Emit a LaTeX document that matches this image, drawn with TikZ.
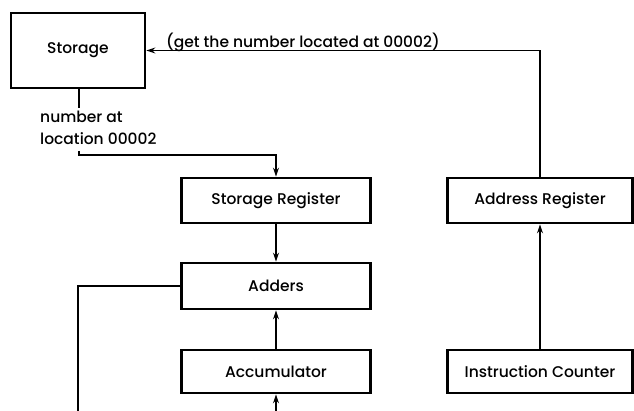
\documentclass[tikz,border=0pt]{standalone}
\usepackage{fontspec}
\setmainfont{Poppins}[UprightFont=* Medium]
\usetikzlibrary{arrows.meta}
\begin{document}
\begin{tikzpicture}[x=1pt,y=-1pt,
  unitbox/.style={draw,line width=2.8pt,minimum width=#1,inner sep=0pt,
    font=\fontsize{15.5}{17}\selectfont},
  link/.style={line width=1.3pt},
  flow/.style={link,-{Stealth[length=9pt,width=6pt]}},
  note/.style={font=\fontsize{15.5}{22}\selectfont,inner sep=0pt}]
  \useasboundingbox (0,0) rectangle (634,411);
  % units of the machine
  \node[unitbox=134pt,minimum height=75pt] (stor) at (78,50.5) {Storage};
  \node[unitbox=189pt,minimum height=45pt] (sreg) at (276,200.5) {Storage Register};
  \node[unitbox=189pt,minimum height=46pt] (add)  at (276,286) {Adders};
  \node[unitbox=189pt,minimum height=43pt] (acc)  at (276,371.5) {Accumulator};
  \node[unitbox=185pt,minimum height=45pt] (areg) at (540,200.5) {Address Register};
  \node[unitbox=185pt,minimum height=43pt] (ictr) at (540,371.5) {Instruction Counter};
  % address request back to storage
  \draw[flow] (areg.north) |- (stor.east);
  \node[note,anchor=base west] (req) at (166,48) {(get the number located at 00002)};
  \draw[flow] (ictr.north) -- (areg.south);
  % number read out of storage
  \coordinate (sout) at (79,108);
  \coordinate (sin) at (79,151);
  \coordinate (bend) at (79,155);
  \draw[link] (stor.south -| sout) -- (sout);
  \node[note,align=left,anchor=base west] (num) at (40,145) {number at\\location 00002};
  \draw[flow] (sin) -- (bend) -| (sreg.north);
  \draw[flow] (sreg.south) -- (add.north);
  \draw[flow] (acc.north) -- (add.south);
  % loose ends at the bottom of the sheet
  \coordinate (accin) at (acc.south |- 0,411);
  \draw[flow] (accin) -- (acc.south);
  \coordinate (loopend) at (78,411);
  \draw[link] (add.west) -| (loopend);
\end{tikzpicture}
\end{document}
